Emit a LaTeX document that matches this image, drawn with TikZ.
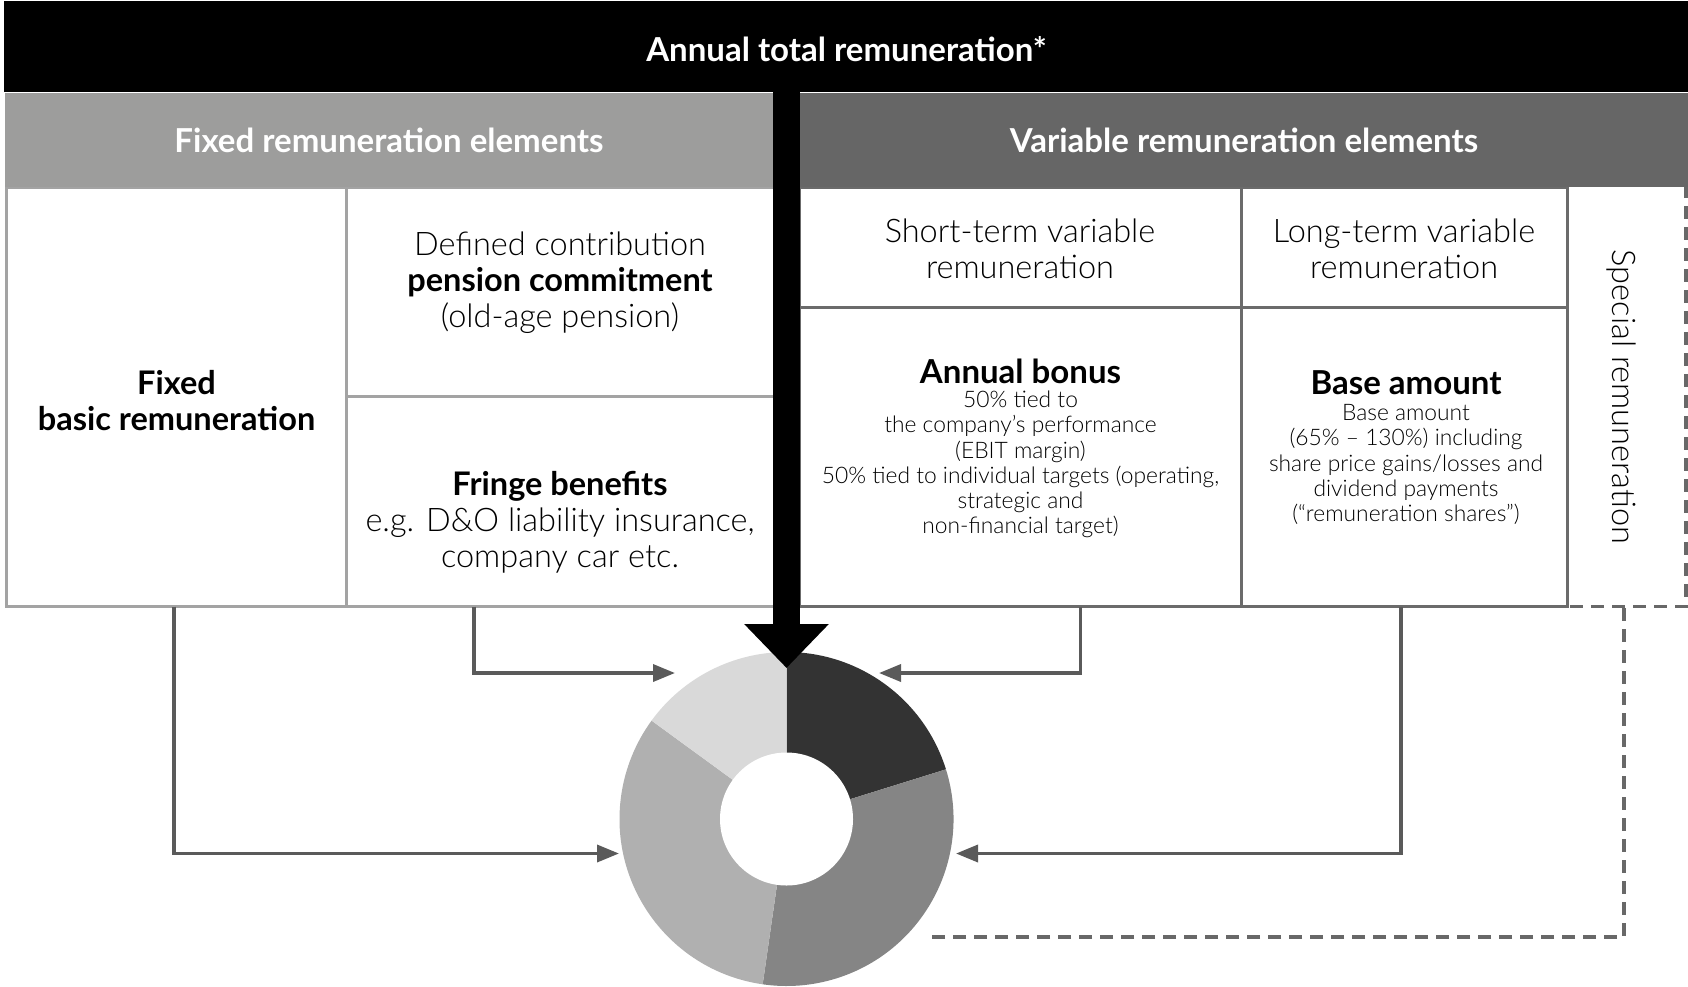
\documentclass[tikz,border=0pt]{standalone}
\usepackage{fontspec}
\setmainfont{Lato}[UprightFont=* Light, BoldFont=* Bold]
\usetikzlibrary{arrows.meta,calc}
\definecolor{fixhead}{HTML}{9D9D9C}
\definecolor{varhead}{HTML}{666666}
\definecolor{fixline}{HTML}{A3A3A3}
\definecolor{varline}{HTML}{6B6B6B}
\definecolor{cgrey}{HTML}{5A5A5A}
\definecolor{dashgrey}{HTML}{686868}
\definecolor{segA}{HTML}{333333}
\definecolor{segB}{HTML}{858585}
\definecolor{segC}{HTML}{B0B0B0}
\definecolor{segD}{HTML}{D9D9D9}
\newcommand\myfs[2]{\fontsize{#1}{#2}\selectfont}
\begin{document}
\begin{tikzpicture}[x=1pt,y=-1pt,
  fixbox/.style={draw=fixline, line width=3pt, inner sep=0pt, outer sep=0pt},
  varbox/.style={draw=varline, line width=3pt, inner sep=0pt, outer sep=0pt},
  head/.style={inner sep=0pt, outer sep=0pt, text=white, font=\myfs{33}{38}\bfseries},
  txt/.style={align=center, inner sep=0pt},
  bigtxt/.style={txt, font=\myfs{32.5}{36}},
  smalltxt/.style={txt, font=\myfs{22.8}{25.2}},
  boldtitle/.style={inner sep=0pt, font=\myfs{33}{36}\bfseries},
  link/.style={draw=cgrey, line width=3.5pt, -{Triangle[length=22pt,width=17pt]}},
  dashlink/.style={draw=dashgrey, line width=3.5pt, dash pattern=on 13pt off 8pt}
]
\fill[white] (0,0) rectangle (1688,986);
\useasboundingbox (0,0) rectangle (1688,986);

% boxes
\node[fixbox, minimum width=340pt, minimum height=419pt] (fixedbox) at (176.5,397) {};
\node[fixbox, minimum width=427.5pt, minimum height=209pt] (pension) at (560.25,292) {};
\node[fixbox, minimum width=427.5pt, minimum height=210pt] (fringe) at (560.25,501.5) {};
\node[varbox, minimum width=442pt, minimum height=119.5pt] (short) at (1020,247.25) {};
\node[varbox, minimum width=326pt, minimum height=119.5pt] (long) at (1404,247.25) {};
\node[varbox, minimum width=442pt, minimum height=299.5pt] (annual) at (1020,456.75) {};
\node[varbox, minimum width=326pt, minimum height=299.5pt] (base) at (1404,456.75) {};
\node[inner sep=0pt, outer sep=0pt, minimum width=119pt, minimum height=421.5pt] (special) at (1626.5,395.75) {};
\draw[dashlink] (special.north east) -- (special.south east) -- (special.south west);

% headers
\node[fill=black, inner sep=0pt, outer sep=0pt, minimum width=1684pt, minimum height=91pt] (band) at (846,46.5) {};
\node[head, fill=fixhead, minimum width=768pt, minimum height=94pt] (fixhead) at (389,140) {Fixed remuneration elements};
\node[head, fill=varhead, minimum width=888pt, minimum height=94pt] (varhead) at (1244,140) {Variable remuneration elements};
\node[inner sep=0pt, text=white, font=\myfs{33}{38}\bfseries] (title) at (846.5,49) {Annual total remuneration*};

% texts
\node[txt, font=\myfs{32.5}{36}\bfseries] (tfixed) at (176.5,401) {Fixed\\basic remuneration};
\node[bigtxt] (tpension) at (560,283) {Defined contribution\\\textbf{pension commitment}\\(old-age pension)};
\node[bigtxt] (tfringe) at (560,522) {\textbf{Fringe benefits}\\e.g. D\&O liability insurance,\\company car etc.};
\node[bigtxt] (tshort) at (1020,249) {Short-term variable\\remuneration};
\node[bigtxt] (tlong) at (1404,249) {Long-term variable\\remuneration};
\node[boldtitle] (tannual) at (1020.5,371) {Annual bonus};
\node[smalltxt] (tannualbody) at (1020.5,464.5) {50\% tied to\\the company’s performance\\(EBIT margin)\\50\% tied to individual targets (operating,\\strategic and\\non-financial target)};
\node[boldtitle] (tbase) at (1406,383) {Base amount};
\node[smalltxt] (tbasebody) at (1406,464.5) {Base amount\\(65\% – 130\%) including\\share price gains/losses and\\dividend payments\\(“remuneration shares”)};
\node[inner sep=0pt, rotate=-90, font=\myfs{32.5}{36}] (tspecial) at (1621,397) {Special remuneration};

% donut
\node[circle, minimum size=334pt, inner sep=0pt, outer sep=0pt] (donut) at (786.5,819) {};
\begin{scope}[shift={(donut.center)}, y=1pt]
  \fill[segA] (0,0) -- (90:167) arc[start angle=90, end angle=17.3, radius=167] -- cycle;
  \fill[segB] (0,0) -- (17.3:167) arc[start angle=17.3, end angle=-98.2, radius=167] -- cycle;
  \fill[segC] (0,0) -- (-98.2:167) arc[start angle=-98.2, end angle=-216.1, radius=167] -- cycle;
  \fill[segD] (0,0) -- (143.9:167) arc[start angle=143.9, end angle=90, radius=167] -- cycle;
  \fill[white] (0,0) circle[radius=66.5];
\end{scope}

% connectors
\draw[link] ($(fixedbox.south)+(-2.5,0)$) |- ($(donut.center)+(-167.5,34.5)$);
\draw[link] ($(fringe.south west)!0.298!(fringe.south east)$) |- ($(donut.center)+(-111.5,-146)$);
\draw[link] ($(annual.south west)!0.637!(annual.south east)$) |- ($(donut.center)+(92.5,-146)$);
\draw[link] ($(base.south west)!0.49!(base.south east)$) |- ($(donut.center)+(169.5,34.5)$);
\draw[dashlink] ($(special.south)+(-2.5,1.5)$) |- ($(donut.center)+(138.5,118)$);

% main arrow
\draw[line width=27pt, -{Triangle[length=44pt,width=82pt]}] ($(band.south -| donut.north)+(0,-2)$) -- ($(donut.north)+(0,16)$);
\end{tikzpicture}
\end{document}
